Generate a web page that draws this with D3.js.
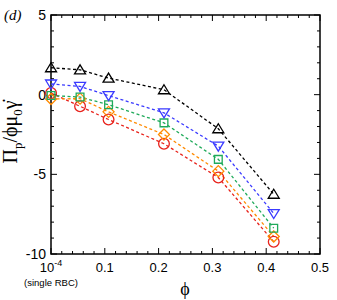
<!DOCTYPE html>
<html><head><meta charset="utf-8">
<script src="https://cdn.jsdelivr.net/npm/d3@7"></script>
<style>body{margin:0;background:#fff}svg{display:block}</style>
</head><body>
<svg id="c" width="337" height="300"></svg>
<script>
const phi = [0.0001, 0.054, 0.107, 0.21, 0.311, 0.414];
const seriesNames = ["s1", "s2", "s3", "s4", "s5"];
const black  = [1.69, 1.56, 1.04, 0.31, -2.14, -6.25];
const blue   = [0.67, 0.52, -0.06, -1.14, -3.23, -7.46];
const green  = [-0.05, -0.15, -0.63, -1.77, -4.06, -8.38];
const orange = [-0.27, -0.25, -1.08, -2.5, -4.8, -8.9];
const red    = [0.1, -0.73, -1.56, -3.08, -5.2, -9.23];
const xTickVals = [0, 0.1, 0.2, 0.3, 0.4, 0.5];
const xTickLabels = ["10^-4", "0.1", "0.2", "0.3", "0.4", "0.5"];
const yTickVals = [-10, -5, 0, 5];

const series = [
  {vals: red, color: "#e8231c", sym: "circle"},
  {vals: orange, color: "#ff8a00", sym: "diamond"},
  {vals: green, color: "#1faa5a", sym: "square"},
  {vals: blue, color: "#3a3aff", sym: "tridown"},
  {vals: black, color: "#000000", sym: "triup"}
];

const svg = d3.select("#c");
const L = 51, R = 320, T = 15, B = 254;
const x = d3.scaleLinear().domain([0, 0.5]).range([L, R]);
const y = d3.scaleLinear().domain([-10, 5]).range([B, T]);

// frame
svg.append("rect").attr("x", L).attr("y", T).attr("width", R - L).attr("height", B - T)
  .attr("fill", "none").attr("stroke", "#000").attr("stroke-width", 1.5);

// ticks
const g = svg.append("g").attr("stroke", "#000").attr("stroke-width", 1);
const xMinor = d3.range(0, 0.5001, 0.02);
xMinor.forEach(v => {
  const major = xTickVals.some(t => Math.abs(t - v) < 1e-6);
  const len = major ? 6 : 3;
  g.append("line").attr("x1", x(v)).attr("x2", x(v)).attr("y1", B).attr("y2", B - len);
  g.append("line").attr("x1", x(v)).attr("x2", x(v)).attr("y1", T).attr("y2", T + len);
});
d3.range(-10, 5.001, 1).forEach(v => {
  const major = yTickVals.includes(v);
  const len = major ? 6 : 3;
  g.append("line").attr("y1", y(v)).attr("y2", y(v)).attr("x1", L).attr("x2", L + len);
  g.append("line").attr("y1", y(v)).attr("y2", y(v)).attr("x1", R).attr("x2", R - len);
});

// tick labels
const fontSans = "'Liberation Sans', Arial, sans-serif";
yTickVals.forEach(v => {
  svg.append("text").attr("x", L - 5).attr("y", y(v) + 5).attr("text-anchor", "end")
    .attr("font-family", fontSans).attr("font-size", 14).text(v < 0 ? "-" + Math.abs(v) : v);
});
xTickVals.forEach((v, i) => {
  const lab = xTickLabels[i];
  const t = svg.append("text").attr("x", x(v)).attr("y", 272).attr("text-anchor", "middle")
    .attr("font-family", fontSans).attr("font-size", 13);
  if (lab.includes("^")) {
    const [b, e] = lab.split("^");
    t.append("tspan").text(b);
    t.append("tspan").attr("dy", -6).attr("font-size", 9).text(e);
  } else t.text(lab);
});
svg.append("text").attr("x", x(0)).attr("y", 286).attr("text-anchor", "middle")
  .attr("font-family", fontSans).attr("font-size", 9.5).text("(single RBC)");

// axis titles
svg.append("text").attr("x", 185).attr("y", 295).attr("text-anchor", "middle")
  .attr("font-family", "'Liberation Serif', serif").attr("font-size", 18).text("ϕ");
const yl = svg.append("text").attr("transform", "translate(17,132) rotate(-90)")
  .attr("text-anchor", "middle").attr("font-family", "'Liberation Serif', serif").attr("font-size", 20);
yl.append("tspan").text("Π");
yl.append("tspan").attr("dy", 5).attr("font-size", 13).text("p");
yl.append("tspan").attr("dy", -5).text("/ϕμ");
yl.append("tspan").attr("dy", 5).attr("font-size", 13).text("0");
yl.append("tspan").attr("dy", -5).text("γ̇");

svg.append("text").attr("x", 4).attr("y", 20).attr("font-family", "'Liberation Serif', serif")
  .attr("font-style", "italic").attr("font-size", 15).text("(d)");

// lines
const line = d3.line().x((d, i) => x(phi[i])).y(d => y(d));
series.forEach(s => {
  svg.append("path").attr("d", line(s.vals)).attr("fill", "none").attr("stroke", s.color)
    .attr("stroke-width", 1.3).attr("stroke-dasharray", "3,2.5");
});
// markers
const symPath = {
  circle: d3.symbol(d3.symbolCircle, 90)(),
  square: d3.symbol(d3.symbolSquare, 60)(),
  diamond: "M0,-5.5L5.5,0L0,5.5L-5.5,0Z",
  triup: "M0,-5L5.5,4L-5.5,4Z",
  tridown: "M0,5L5.5,-4L-5.5,-4Z"
};
series.forEach(s => {
  s.vals.forEach((v, i) => {
    svg.append("path").attr("d", symPath[s.sym])
      .attr("transform", `translate(${x(phi[i])},${y(v)})`)
      .attr("fill", "none").attr("stroke", s.color).attr("stroke-width", 1.3);
  });
});
</script>
</body></html>
